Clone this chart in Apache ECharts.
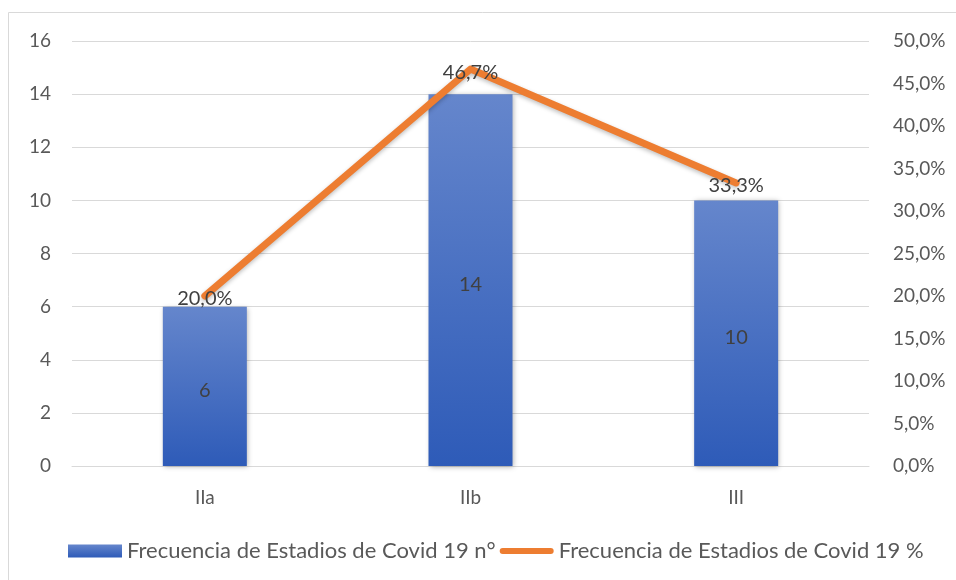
<!DOCTYPE html>
<html><head><meta charset="utf-8">
<script src="https://cdn.jsdelivr.net/npm/echarts@6/dist/echarts.min.js"></script>
<style>html,body{margin:0;padding:0;background:#fff}#c{width:956px;height:580px}</style>
</head><body><div id="c"></div>
<script>
const categories = ['IIa', 'IIb', 'III'];
const counts = [6, 14, 10];
const percents = [20.0, 46.7, 33.3];
const leftTicks = {min: 0, max: 16, interval: 2};
const rightTicks = {min: 0, max: 50, interval: 5};
const seriesNames = ['Frecuencia de Estadios de Covid 19 n°', 'Frecuencia de Estadios de Covid 19 %'];

const FONT = 'Lato';
const chart = echarts.init(document.getElementById('c'));
const fmtPct = v => v.toFixed(1).replace('.', ',') + '%';
const lineIcon = 'path://M3,3.5 H51 A3,3 0 0 1 51,9.5 H3 A3,3 0 0 1 3,3.5 Z M0,0 h0.01 v0.01 z M54,13 h-0.01 v-0.01 z';
chart.setOption({
  animation: false,
  textStyle: {fontFamily: FONT},
  graphic: [{type: 'rect', shape: {x: 8.5, y: 12.5, width: 1000, height: 1000}, style: {fill: 'none', stroke: '#d9d9d9', lineWidth: 1}, z: -10}],
  grid: {left: 72, right: 87, top: 41, bottom: 114, containLabel: false},
  legend: {
    bottom: 13, left: 63, itemGap: 4, itemWidth: 54, itemHeight: 13,
    textStyle: {fontFamily: FONT, fontSize: 22, color: '#595959'},
    data: [{name: seriesNames[0], icon: 'rect'}, {name: seriesNames[1], icon: lineIcon}]
  },
  xAxis: {
    type: 'category', data: categories,
    axisLine: {lineStyle: {color: '#d9d9d9', width: 1}}, axisTick: {show: false},
    axisLabel: {color: '#595959', fontSize: 19, fontFamily: FONT, margin: 22}
  },
  yAxis: [{
    type: 'value', min: leftTicks.min, max: leftTicks.max, interval: leftTicks.interval,
    axisLine: {show: false}, axisTick: {show: false},
    axisLabel: {color: '#595959', fontSize: 19, fontFamily: FONT, margin: 21},
    splitLine: {lineStyle: {color: '#d9d9d9', width: 1}}
  }, {
    type: 'value', min: rightTicks.min, max: rightTicks.max, interval: rightTicks.interval,
    axisLine: {show: false}, axisTick: {show: false}, splitLine: {show: false},
    axisLabel: {color: '#595959', fontSize: 19, fontFamily: FONT, margin: 24, formatter: fmtPct}
  }],
  series: [{
    name: seriesNames[0], type: 'bar', data: counts, barWidth: 84, yAxisIndex: 0,
    itemStyle: {
      color: new echarts.graphic.LinearGradient(0, 0, 0, 1, [{offset: 0, color: '#6586cc'}, {offset: 1, color: '#2e5bb8'}]),
      shadowColor: 'rgba(0,0,0,0.3)', shadowBlur: 5, shadowOffsetX: 1, shadowOffsetY: 1
    },
    label: {show: true, position: 'inside', offset: [0, 4], color: '#404040', fontSize: 20, fontFamily: FONT}
  }, {
    name: seriesNames[1], type: 'line', data: percents, yAxisIndex: 1,
    symbol: 'circle', symbolSize: 1, showSymbol: true,
    lineStyle: {color: '#ed7d31', width: 7, cap: 'round', join: 'round',
      shadowColor: 'rgba(0,0,0,0.25)', shadowBlur: 4, shadowOffsetY: 2},
    itemStyle: {color: '#ed7d31'},
    label: {show: true, position: 'inside', offset: [0, 3], color: '#404040', fontSize: 20, fontFamily: FONT, formatter: p => fmtPct(p.value)},
    z: 3
  }]
});
</script></body></html>
